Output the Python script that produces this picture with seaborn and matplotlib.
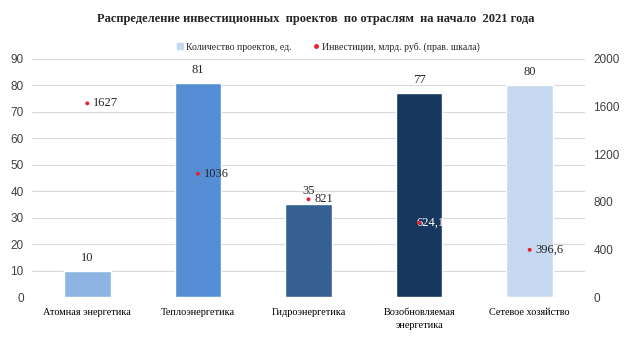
import matplotlib
matplotlib.use('Agg')
import matplotlib.pyplot as plt
from matplotlib.lines import Line2D
import pandas as pd
import seaborn as sns

sns.set_theme(style='white')
plt.rcParams['font.family'] = ['Liberation Sans', 'DejaVu Sans']

# data
sectors = ['Атомная энергетика', 'Теплоэнергетика', 'Гидроэнергетика',
           'Возобновляемая\nэнергетика', 'Сетевое хозяйство']
projects = [10, 81, 35, 77, 80]
investments = [1627, 1036, 821, 624.1, 396.6]
invest_labels = ['1627', '1036', '821', '624,1', '396,6']
bar_colors = ['#8EB4E3', '#558ED5', '#376092', '#17375E', '#C6D9F1']

df = pd.DataFrame({'sector': sectors, 'projects': projects, 'invest': investments})

fig = plt.figure(figsize=(6.32, 3.59), dpi=100)
ax = fig.add_axes([0.0506, 0.1727, 0.875, 0.663])

sns.barplot(data=df, x='sector', y='projects', hue='sector', palette=bar_colors,
            width=0.42, legend=False, ax=ax, saturation=1)
ax.set_ylim(0, 90)
ax.set_yticks(range(0, 91, 10))
ax.set_xlim(-0.5, 4.5)
ax.grid(axis='y', color='#D9D9D9', linewidth=0.8)
ax.set_axisbelow(True)
for s in ax.spines.values():
    s.set_visible(False)
ax.tick_params(axis='both', length=0, labelsize=8.5, colors='#404040')
ax.tick_params(axis='y', pad=6)
ax.tick_params(axis='x', pad=8)
ax.set_xlabel('')
ax.set_ylabel('')
ax.set_xticks(range(len(sectors)))
ax.set_xticklabels(sectors, family=['Liberation Serif'], fontsize=7.4, color='black',
                   linespacing=1.5)

serif = ['Liberation Serif']
for i, v in enumerate(projects):
    ax.annotate(str(v), (i, v), xytext=(0, 5), textcoords='offset points',
                ha='center', va='bottom', fontsize=9, color='#262626', family=serif)

ax2 = ax.twinx()
sns.scatterplot(data=df, x='sector', y='invest', color='#E8202A', s=8,
                edgecolor='none', ax=ax2, zorder=5)
ax2.set_ylim(0, 2000)
ax2.set_yticks(range(0, 2001, 400))
for s in ax2.spines.values():
    s.set_visible(False)
ax2.tick_params(axis='y', length=0, labelsize=8.5, colors='#404040', pad=6)
ax2.set_ylabel('')
ax2.set_xlabel('')
ax2.grid(False)

for i, (v, lab) in enumerate(zip(investments, invest_labels)):
    col = 'white' if i == 3 else '#262626'
    dx = -1.5 if i == 3 else 4
    ax2.annotate(lab, (i, v), xytext=(dx, 0), textcoords='offset points',
                 ha='left', va='center', fontsize=9, color=col, family=serif)

fig.suptitle('Распределение инвестиционных  проектов  по отраслям  на начало  2021 года',
             x=0.5, y=0.965, fontsize=9, fontweight='bold', family=serif)

handles = [Line2D([], [], marker='s', linestyle='none', color='#C6D9F1', markersize=4),
           Line2D([], [], marker='o', linestyle='none', color='#E8202A', markersize=2.5)]
fig.legend(handles, ['Количество проектов, ед.', 'Инвестиции, млрд. руб. (прав. шкала)'],
           loc='center', bbox_to_anchor=(0.518, 0.869), ncol=2, frameon=False,
           prop={'family': 'Liberation Serif', 'size': 7}, handletextpad=0.1,
           columnspacing=2.0, handlelength=1)

fig.savefig('out.png', dpi=100)
